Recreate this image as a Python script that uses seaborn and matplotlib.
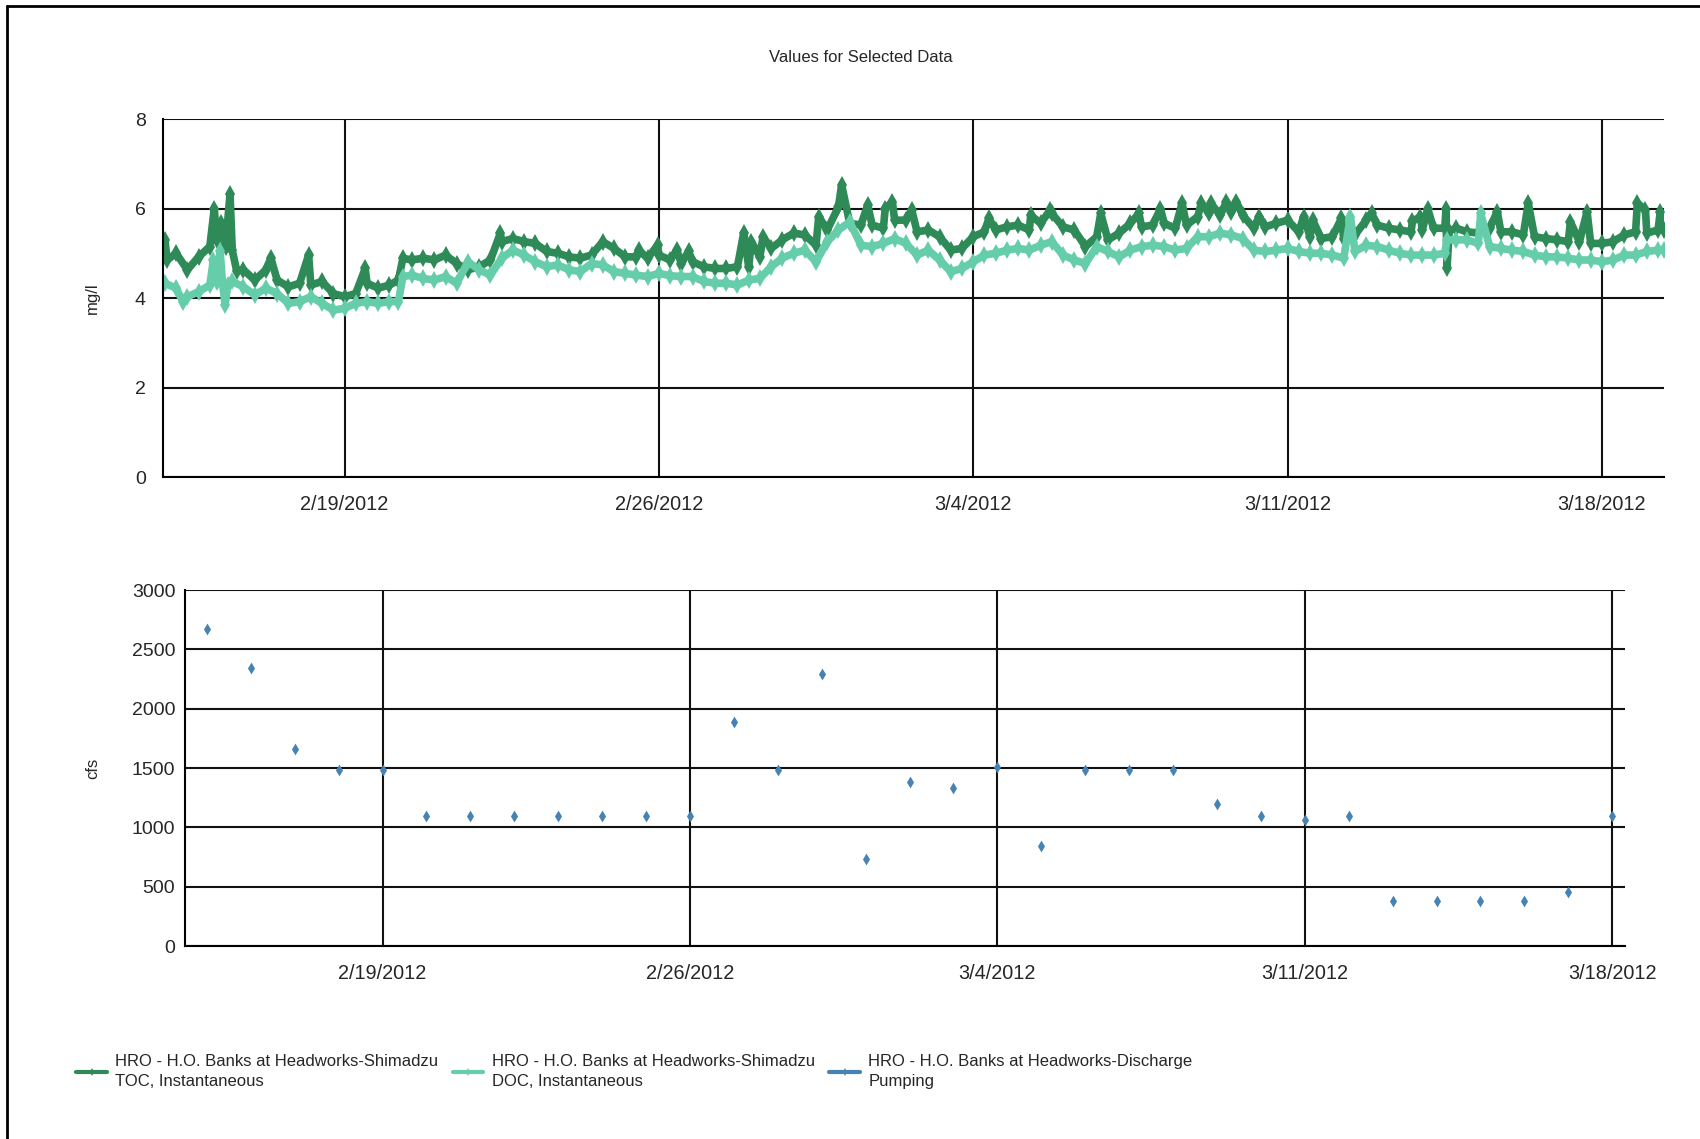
import pandas as pd
import matplotlib.pyplot as plt
from matplotlib.lines import Line2D
import seaborn as sns

# Data
# time offsets are in days from 2/15/2012 00:00
toc_day = [0.0, 0.05, 0.25, 0.5, 0.75, 1.0, 1.1, 1.15, 1.25, 1.35, 1.45, 1.5, 1.6, 1.75, 2.0, 2.25,
           2.36, 2.5, 2.75, 3.0, 3.2, 3.25, 3.5, 3.75, 4.0, 4.25, 4.46, 4.5, 4.75, 5.0, 5.2, 5.3,
           5.5, 5.75, 6.0, 6.25, 6.5, 6.75, 7.0, 7.25, 7.47, 7.5, 7.75, 8.0, 8.25, 8.5, 8.75, 9.0,
           9.25, 9.5, 9.75, 10.0, 10.25, 10.5, 10.55, 10.75, 10.97, 11.0, 11.25, 11.4, 11.5, 11.66,
           11.75, 12.0, 12.25, 12.5, 12.75, 12.89, 13.0, 13.06, 13.25, 13.32, 13.5, 13.75, 14.0,
           14.25, 14.5, 14.56, 14.75, 15.0, 15.07, 15.25, 15.5, 15.65, 15.75, 16.0, 16.04, 16.2,
           16.25, 16.5, 16.63, 16.75, 17.0, 17.25, 17.5, 17.75, 18.0, 18.25, 18.35, 18.5, 18.75,
           19.0, 19.25, 19.28, 19.5, 19.72, 19.75, 20.0, 20.25, 20.5, 20.75, 20.84, 21.0, 21.25,
           21.5, 21.69, 21.75, 22.0, 22.17, 22.25, 22.5, 22.65, 22.75, 23.0, 23.08, 23.25, 23.29,
           23.5, 23.64, 23.75, 23.86, 24.0, 24.25, 24.37, 24.5, 24.75, 25.0, 25.25, 25.36, 25.5,
           25.56, 25.75, 26.0, 26.2, 26.25, 26.5, 26.75, 26.87, 27.0, 27.25, 27.5, 27.75, 27.78,
           27.96, 28.0, 28.12, 28.25, 28.5, 28.53, 28.55, 28.6, 28.75, 29.0, 29.25, 29.5, 29.67,
           29.75, 30.0, 30.25, 30.36, 30.5, 30.75, 31.0, 31.25, 31.3, 31.5, 31.67, 31.75, 32.0,
           32.25, 32.5, 32.75, 32.79, 32.97, 33.0, 33.25, 33.3, 33.38]
toc_val = [5.3, 4.85, 5.0, 4.63, 4.92, 5.15, 6.0, 5.3, 5.67, 5.15, 6.32, 5.07, 4.6, 4.63, 4.4, 4.63,
           4.89, 4.4, 4.25, 4.33, 4.96, 4.29, 4.37, 4.1, 4.03, 4.1, 4.66, 4.33, 4.22, 4.29, 4.4, 4.89,
           4.85, 4.89, 4.85, 4.96, 4.77, 4.63, 4.7, 4.85, 5.45, 5.26, 5.33, 5.26, 5.22, 5.04, 5.0, 4.92,
           4.89, 4.96, 5.26, 5.11, 4.92, 4.92, 5.07, 4.89, 5.18, 4.96, 4.85, 5.07, 4.77, 5.04,
           4.81, 4.7, 4.66, 4.66, 4.7, 5.46, 4.7, 5.26, 4.92, 5.37, 5.11, 5.3, 5.45,
           5.41, 5.18, 5.82, 5.52, 6.04, 6.53, 5.67, 5.63, 6.08, 5.63, 5.56, 6.0, 6.15,
           5.74, 5.74, 5.97, 5.48, 5.52, 5.37, 5.07, 5.11, 5.37, 5.48, 5.78, 5.52, 5.59,
           5.63, 5.52, 5.85, 5.67, 5.97, 5.89, 5.59, 5.52, 5.15, 5.37, 5.89, 5.3, 5.45,
           5.67, 5.89, 5.59, 5.63, 6.0, 5.67, 5.56, 6.12, 5.63, 5.82, 6.12, 5.89, 6.12,
           5.85, 6.15, 5.93, 6.15, 5.85, 5.56, 5.82, 5.59, 5.67, 5.74, 5.48, 5.82, 5.37,
           5.74, 5.33, 5.37, 5.78, 5.33, 5.41, 5.74, 5.89, 5.63, 5.56, 5.52, 5.48, 5.71,
           5.82, 5.52, 6.0, 5.56, 5.56, 6.0, 4.66, 5.5, 5.56, 5.48, 5.45, 5.56, 5.93,
           5.48, 5.48, 5.41, 6.12, 5.37, 5.33, 5.3, 5.26, 5.7, 5.26, 5.93, 5.22, 5.22,
           5.26, 5.41, 5.48, 6.12, 5.97, 5.45, 5.52, 5.93, 5.52]

doc_day = [0.0, 0.25, 0.4, 0.5, 0.75, 1.0, 1.08, 1.15, 1.23, 1.28, 1.34, 1.4, 1.5, 1.75, 2.0, 2.25,
           2.5, 2.75, 3.0, 3.25, 3.5, 3.75, 4.0, 4.25, 4.5, 4.75, 5.0, 5.2, 5.3, 5.5, 5.75, 6.0,
           6.25, 6.5, 6.75, 7.0, 7.25, 7.5, 7.75, 8.0, 8.25, 8.5, 8.75, 9.0, 9.25, 9.5, 9.75, 10.0,
           10.25, 10.5, 10.75, 11.0, 11.25, 11.5, 11.75, 12.0, 12.25, 12.5, 12.75, 13.0, 13.25,
           13.5, 13.75, 14.0, 14.25, 14.5, 14.75, 15.0, 15.25, 15.5, 15.75, 16.0, 16.25, 16.5,
           16.75, 17.0, 17.25, 17.5, 17.75, 18.0, 18.25, 18.5, 18.75, 19.0, 19.25, 19.5, 19.75,
           20.0, 20.25, 20.5, 20.75, 21.0, 21.25, 21.5, 21.75, 22.0, 22.25, 22.5, 22.75, 23.0,
           23.25, 23.5, 23.75, 24.0, 24.25, 24.5, 24.75, 25.0, 25.25, 25.5, 25.75, 26.0, 26.25,
           26.4, 26.5, 26.75, 27.0, 27.25, 27.5, 27.75, 28.0, 28.25, 28.5, 28.55, 28.75, 29.0,
           29.25, 29.3, 29.5, 29.75, 30.0, 30.25, 30.5, 30.75, 31.0, 31.25, 31.5, 31.75, 32.0,
           32.25, 32.5, 32.75, 33.0, 33.25, 33.38]
doc_val = [4.33, 4.22, 3.92, 4.03, 4.14, 4.29, 4.85, 4.35, 5.04, 4.37, 3.84, 4.3, 4.37, 4.25, 4.07, 4.22,
           4.1, 3.88, 3.92, 4.03, 3.88, 3.73, 3.77, 3.88, 3.92, 3.88, 3.92, 3.92, 4.48, 4.51, 4.44, 4.4,
           4.48, 4.33, 4.81, 4.63, 4.51, 4.89, 5.07, 4.96, 4.81, 4.7, 4.74, 4.63, 4.59, 4.77, 4.74, 4.59,
           4.55, 4.51, 4.48, 4.55, 4.5, 4.48, 4.48, 4.37, 4.33, 4.33, 4.29, 4.4, 4.44,
           4.7, 4.89, 5.0, 5.07, 4.81, 5.26, 5.52, 5.7, 5.18, 5.15, 5.22, 5.33, 5.22,
           4.96, 5.07, 4.85, 4.59, 4.66, 4.81, 4.96, 5.0, 5.07, 5.11, 5.07, 5.18, 5.26,
           4.96, 4.85, 4.77, 5.15, 5.04, 4.92, 5.07, 5.15, 5.18, 5.15, 5.07, 5.11, 5.37,
           5.37, 5.45, 5.41, 5.33, 5.07, 5.04, 5.07, 5.11, 5.04, 5.0, 5.0, 4.96, 4.89,
           5.82, 5.04, 5.18, 5.15, 5.07, 5.0, 4.96, 4.96, 4.96, 5.0, 5.3, 5.3, 5.3,
           5.22, 5.89, 5.15, 5.11, 5.07, 5.04, 4.96, 4.92, 4.92, 4.89, 4.85, 4.85, 4.81,
           4.85, 4.96, 4.96, 5.04, 5.07, 5.07]

flow_date = pd.date_range('2012-02-15', '2012-03-18', freq='D')
flow_cfs = [2670, 2340, 1660, 1480, 1480, 1100, 1100, 1100, 1100, 1100, 1100, 1100,
            1885, 1480, 2295, 730, 1385, 1335, 1505, 845, 1480, 1480, 1480, 1200,
            1100, 1060, 1100, 380, 380, 380, 380, 455, 1100]

tick_dates = ['2012-02-19', '2012-02-26', '2012-03-04', '2012-03-11', '2012-03-18']
tick_labels = ['2/19/2012', '2/26/2012', '3/4/2012', '3/11/2012', '3/18/2012']

names = ['HRO - H.O. Banks at Headworks-Shimadzu\nTOC, Instantaneous',
         'HRO - H.O. Banks at Headworks-Shimadzu\nDOC, Instantaneous',
         'HRO - H.O. Banks at Headworks-Discharge\nPumping']
colors = ['#2E8B57', '#66CDAA', '#4682B4']

start = pd.Timestamp('2012-02-15')
toc = pd.DataFrame({'time': start + pd.to_timedelta(toc_day, unit='D'), 'value': toc_val})
doc = pd.DataFrame({'time': start + pd.to_timedelta(doc_day, unit='D'), 'value': doc_val})
flow = pd.DataFrame({'time': flow_date, 'value': flow_cfs})

sns.set_theme(style='white')
plt.rcParams['font.family'] = ['Liberation Sans', 'DejaVu Sans']

fig = plt.figure(figsize=(17, 11.39), dpi=100)
ax1 = fig.add_axes([0.0959, 0.5812, 0.8829, 0.3143])
ax2 = fig.add_axes([0.1088, 0.1694, 0.8471, 0.3126])

# top chart: TOC / DOC
sns.lineplot(data=toc, x='time', y='value', ax=ax1, color=colors[0], lw=5.5,
             marker='d', markersize=9, markeredgewidth=0, estimator=None, legend=False)
sns.lineplot(data=doc, x='time', y='value', ax=ax1, color=colors[1], lw=5.5,
             marker='d', markersize=9, markeredgewidth=0, estimator=None, legend=False)

# bottom chart: discharge
sns.scatterplot(data=flow, x='time', y='value', ax=ax2, color=colors[2], marker='d',
                s=36, linewidth=0, legend=False)

ax1.set_xlim(pd.Timestamp('2012-02-14 23:00'), pd.Timestamp('2012-03-19 09:10'))
ax1.set_ylim(0, 8)
ax1.set_yticks([0, 2, 4, 6, 8])
ax1.set_ylabel('mg/l', fontsize=12)
ax1.yaxis.set_label_coords(-0.042, 0.5)

ax2.set_xlim(pd.Timestamp('2012-02-14 12:00'), pd.Timestamp('2012-03-18 07:00'))
ax2.set_ylim(0, 3000)
ax2.set_yticks(range(0, 3001, 500))
ax2.set_ylabel('cfs', fontsize=12)
ax2.yaxis.set_label_coords(-0.0587, 0.5)

for ax in (ax1, ax2):
    ax.set_xticks(pd.to_datetime(tick_dates))
    ax.set_xticklabels(tick_labels)
    ax.set_xlabel('')
    ax.grid(True, color='#111111', lw=1.5)
    ax.set_axisbelow(True)
    for s in ('top', 'right'):
        ax.spines[s].set_visible(False)
    for s in ('left', 'bottom'):
        ax.spines[s].set_color('black')
        ax.spines[s].set_linewidth(1.5)
    ax.tick_params(axis='x', length=5, width=1.5, color='black', pad=8, labelsize=14.3)

ax1.tick_params(axis='y', length=11.5, width=1.5, color='black', pad=1, labelsize=14)
ax2.tick_params(axis='y', length=6, width=1.5, color='black', pad=1, labelsize=14)

fig.text(861 / 1700, 1 - 57 / 1139, 'Values for Selected Data', ha='center', va='center',
         fontsize=12)

handles = [Line2D([], [], color=c, lw=3, marker='d', markersize=4, markeredgewidth=0)
           for c in colors]
leg = fig.legend(handles, names, loc='center left', bbox_to_anchor=(0.036, 0.059), ncol=3,
                 frameon=False, fontsize=12, handlelength=1.85, handletextpad=0.5,
                 columnspacing=0.85, labelspacing=0.2)
for t in leg.get_texts():
    t.set_linespacing(1.45)

# figure frame (top and left edge)
fig.add_artist(Line2D([7 / 1700, 7 / 1700], [0, 1 - 6 / 1139], transform=fig.transFigure,
                      color='black', lw=2))
fig.add_artist(Line2D([7 / 1700, 1], [1 - 6 / 1139, 1 - 6 / 1139], transform=fig.transFigure,
                      color='black', lw=2))

fig.savefig('out.png', dpi=100)
